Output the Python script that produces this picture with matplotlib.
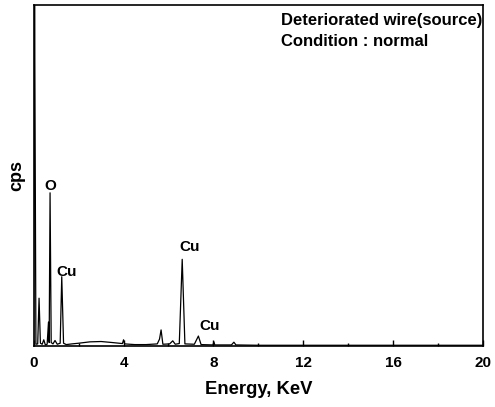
import matplotlib
matplotlib.use("Agg")
import matplotlib.pyplot as plt
from matplotlib.ticker import MultipleLocator

plt.rcParams['font.family'] = ['Liberation Sans', 'DejaVu Sans']
plt.rcParams['font.weight'] = 'bold'

# spectrum (energy in keV, cps in % of full scale)
energy = [0.00, 0.04, 0.10, 0.18, 0.24, 0.30, 0.38, 0.45, 0.52, 0.60, 0.66, 0.69,
          0.73, 0.78, 0.86, 0.95, 1.05, 1.18, 1.25, 1.33, 1.45, 1.7, 2.0, 2.5,
          3.0, 3.5, 3.95, 4.0, 4.05, 4.5, 5.0, 5.5, 5.60, 5.67, 5.75, 6.05,
          6.19, 6.30, 6.48, 6.61, 6.73, 7.15, 7.33, 7.45, 7.98, 8.02, 8.06,
          8.80, 8.91, 9.00, 10.0, 12.0, 14.0, 16.0, 18.0, 20.0]
cps = [0.0, 105.0, 0.5, 0.6, 14.0, 0.8, 0.5, 1.8, 0.3, 0.5, 7.0, 1.0,
       44.9, 1.0, 0.6, 1.6, 0.5, 0.8, 20.3, 0.8, 0.4, 0.6, 0.8, 1.2,
       1.3, 1.0, 0.7, 1.8, 0.6, 0.4, 0.4, 0.6, 2.0, 4.7, 0.5, 0.6,
       1.5, 0.5, 0.7, 25.4, 0.6, 0.5, 2.9, 0.4, 0.3, 1.2, 0.3,
       0.3, 1.1, 0.3, 0.2, 0.2, 0.2, 0.2, 0.2, 0.2]

peak_labels = ["O", "Cu", "Cu", "Cu"]
peak_pos = [0.73, 1.25, 6.61, 7.33]
peak_height = [44.9, 20.3, 25.4, 2.9]

# label offsets in points (dx, dy)
label_offsets = [(0, 0), (-4, -2), (-2, 4), (1, 2)]

fig, ax = plt.subplots(figsize=(4.95, 4.07), dpi=100)
fig.subplots_adjust(left=0.068, right=0.976, top=0.988, bottom=0.15)

ax.plot(energy, cps, color='black', lw=0.9)

ax.set_xlim(0, 20)
ax.set_ylim(0, 100)
ax.xaxis.set_major_locator(MultipleLocator(4))
ax.xaxis.set_minor_locator(MultipleLocator(2))
ax.tick_params(axis='x', which='major', direction='in', length=4, width=1, labelsize=11, pad=7)
ax.tick_params(axis='x', which='minor', direction='in', length=2, width=1)
ax.set_yticks([])
for s in ax.spines.values():
    s.set_linewidth(1.2)

ax.set_xlabel('Energy, KeV', fontsize=13.3, fontweight='bold', labelpad=8)
ax.set_ylabel('cps', fontsize=13, fontweight='bold', labelpad=6)

for lab, px, ph, off in zip(peak_labels, peak_pos, peak_height, label_offsets):
    ax.annotate(lab, (px, ph), xytext=off, textcoords='offset points',
                ha='center' if lab == 'O' else 'left', va='bottom',
                fontsize=11, fontweight='bold')

ax.text(0.55, 0.975, 'Deteriorated wire(source)\nCondition : normal',
        transform=ax.transAxes, ha='left', va='top', fontsize=12,
        fontweight='bold', linespacing=1.45)

fig.savefig('out.png', dpi=100)
